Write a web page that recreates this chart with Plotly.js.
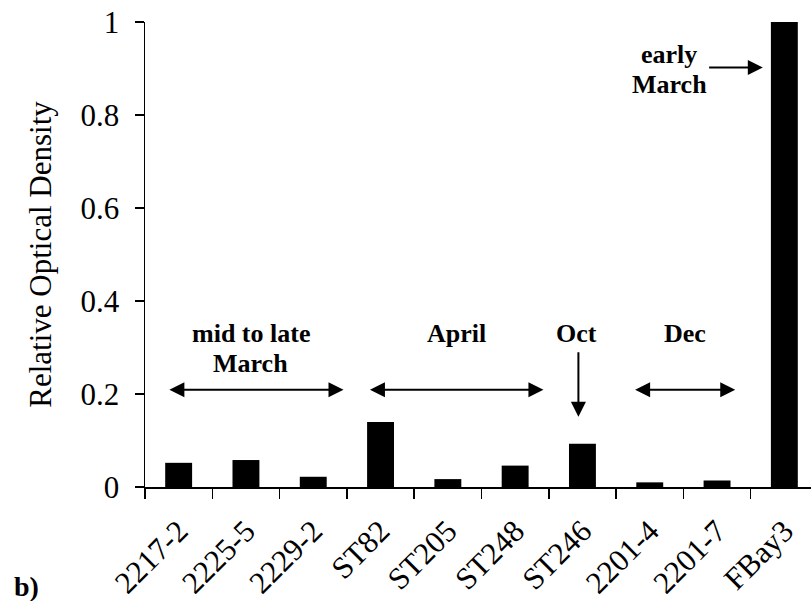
<!DOCTYPE html>
<html>
<head>
<meta charset="utf-8">
<script src="https://cdn.plot.ly/plotly-3.0.1.min.js"></script>
<style>
  html, body { margin: 0; padding: 0; background: #fff; }
  #chart { width: 811px; height: 601px; }
</style>
</head>
<body>
<div id="chart"></div>
<script>
// Sample isolates and their relative optical density
const isolates = ['2217-2', '2225-5', '2229-2', 'ST82', 'ST205', 'ST248', 'ST246', '2201-4', '2201-7', 'FBay3'];
const density = [0.052, 0.058, 0.022, 0.140, 0.017, 0.046, 0.093, 0.010, 0.014, 1.0];
const yTicks = [0, 0.2, 0.4, 0.6, 0.8, 1];
const yTickText = ['0', '0.2', '0.4', '0.6', '0.8', '1'];

// Sampling-period labels: text, x (category index), y (density units)
const periodLabels = [
  { text: 'mid to late', x: 1.07, y: 0.331 },
  { text: 'March', x: 1.07, y: 0.265 },
  { text: 'April', x: 4.13, y: 0.331 },
  { text: 'Oct', x: 5.91, y: 0.331 },
  { text: 'Dec', x: 7.52, y: 0.331 },
  { text: 'early', x: 7.29, y: 0.93 },
  { text: 'March', x: 7.29, y: 0.865 }
];

// Arrows: head (x, y), tail (ax, ay), double-headed or not
const periodArrows = [
  { x: 2.45, y: 0.209, ax: -0.16, ay: 0.209, both: true },
  { x: 5.42, y: 0.209, ax: 2.82, ay: 0.209, both: true },
  { x: 8.27, y: 0.209, ax: 6.76, ay: 0.209, both: true },
  { x: 5.94, y: 0.151, ax: 5.94, ay: 0.293, both: false },
  { x: 8.68, y: 0.902, ax: 7.86, ay: 0.902, both: false }
];

const serif = 'Liberation Serif, Times New Roman, serif';

const annotations = [];
periodLabels.forEach(l => {
  annotations.push({
    x: l.x, y: l.y, xref: 'x', yref: 'y',
    text: l.text, showarrow: false,
    xanchor: 'center', yanchor: 'middle',
    font: { family: serif, size: 26, color: '#000', weight: 700 }
  });
});
periodArrows.forEach(a => {
  annotations.push({
    x: a.x, y: a.y, ax: a.ax, ay: a.ay,
    xref: 'x', yref: 'y', axref: 'x', ayref: 'y',
    text: '', showarrow: true,
    arrowcolor: '#000', arrowwidth: 2,
    arrowhead: 2, arrowsize: 1.5,
    startarrowhead: 2, startarrowsize: 1.5,
    arrowside: a.both ? 'end+start' : 'end',
    standoff: 0, startstandoff: 0
  });
});
// Panel letter
annotations.push({
  x: -0.2, y: -0.214, xref: 'paper', yref: 'paper',
  text: 'b)', showarrow: false, xanchor: 'left', yanchor: 'middle',
  font: { family: serif, size: 28, color: '#000', weight: 700 }
});

const trace = {
  type: 'bar',
  x: isolates,
  y: density,
  marker: { color: '#000', line: { width: 0 } },
  hoverinfo: 'x+y'
};

const layout = {
  width: 811,
  height: 601,
  margin: { l: 145, r: 0, t: 22, b: 114, pad: 0 },
  paper_bgcolor: '#fff',
  plot_bgcolor: '#fff',
  showlegend: false,
  bargap: 0.6,
  font: { family: serif, color: '#000' },
  xaxis: {
    type: 'category',
    range: [-0.5, 9.396],
    showline: true, linecolor: '#000', linewidth: 1.5,
    showgrid: false, zeroline: false,
    ticks: 'outside', tickson: 'boundaries', ticklen: 10, tickwidth: 1.5, tickcolor: '#000',
    tickangle: -45,
    ticklabelstandoff: 12,
    tickfont: { family: serif, size: 31, color: '#000' }
  },
  yaxis: {
    range: [0, 1],
    tickvals: yTicks,
    ticktext: yTickText,
    showline: true, linecolor: '#000', linewidth: 1.5,
    showgrid: false, zeroline: false,
    ticks: 'outside', ticklen: 9, tickwidth: 1.5, tickcolor: '#000',
    ticklabelstandoff: 9,
    tickfont: { family: serif, size: 31, color: '#000' },
    title: {
      text: 'Relative Optical Density',
      font: { family: serif, size: 31, color: '#000' },
      standoff: 19
    }
  },
  annotations: annotations
};

Plotly.newPlot('chart', [trace], layout, { displayModeBar: false, staticPlot: true });
</script>
</body>
</html>
